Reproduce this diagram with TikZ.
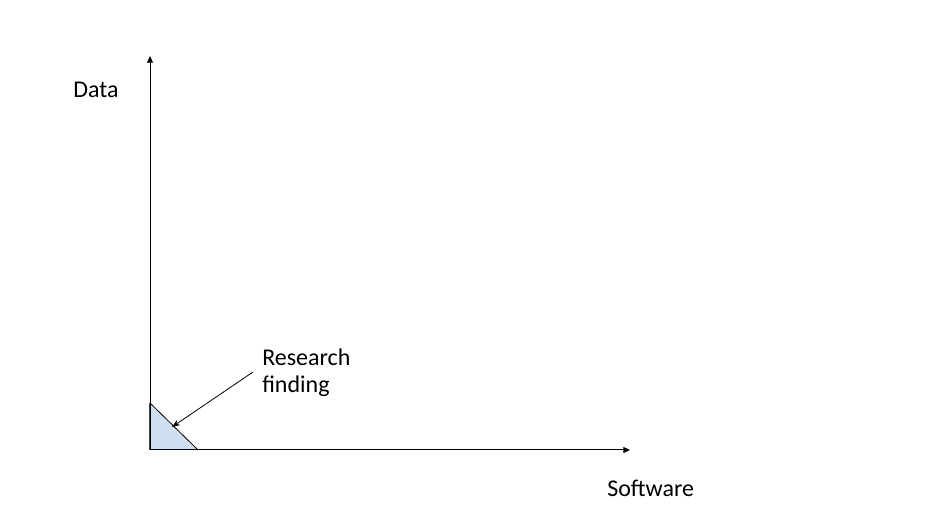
\documentclass[tikz,border=0pt]{standalone}
\usepackage{fontspec}
\setmainfont{Carlito}
\usetikzlibrary{arrows.meta}
\begin{document}
\begin{tikzpicture}[x=0.75pt,y=-0.75pt,
  lbl/.style={anchor=base west,inner sep=0pt,font=\fontsize{18pt}{20.25pt}\selectfont,align=left},
  axis/.style={line width=0.75pt,-{Triangle[length=5pt,width=4.5pt]}},
  pointer/.style={line width=0.6pt,-{Stealth[length=6pt,width=4.5pt]}}]
\useasboundingbox (0,0) rectangle (943,530);
\coordinate (O) at (150,450);
\coordinate (ytip) at (150,56);
\coordinate (xtip) at (630,450);
\coordinate (T1) at (150,403);
\coordinate (T2) at (198,450);
\fill[fill={rgb,255:red,207;green,224;blue,243}] (O) -- (T1) -- (T2) -- cycle;
\draw[line width=0.6pt] (T1) -- (T2);
\draw[line width=1.2pt,black!75] (O) -- (T1);
\draw[axis] (O) -- (ytip);
\draw[axis] (O) -- (xtip);
\node[lbl] (data) at (73,98) {Data};
\node[lbl] (soft) at (607,497) {Software};
\node[lbl] (res) at (262,393) {Research\\finding};
\coordinate (pstart) at (253,372);
\coordinate (pend) at (172,427);
\draw[pointer] (pstart) -- (pend);
\end{tikzpicture}
\end{document}
